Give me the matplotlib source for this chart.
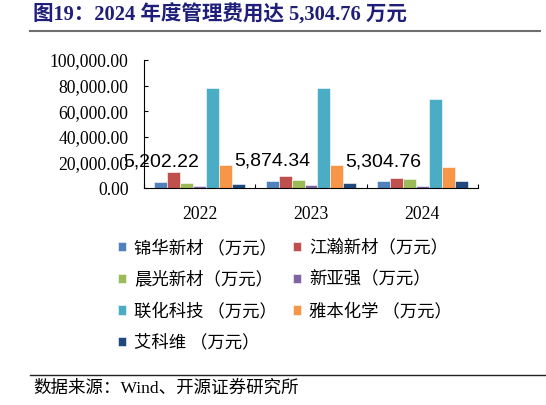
import numpy as np
import matplotlib
matplotlib.use("Agg")
import matplotlib.pyplot as plt
from matplotlib.lines import Line2D

# Data (unit: 万元)
years = ["2022", "2023", "2024"]
companies = ["锦华新材 （万元）", "江瀚新材（万元）", "晨光新材（万元）", "新亚强（万元）",
             "联化科技 （万元）", "雅本化学 （万元）", "艾科维 （万元）"]
jinhua = [5202.22, 5874.34, 5304.76]
jianghan = [12700, 9400, 8300]
chenguang = [3900, 6500, 7300]
xinyaqiang = [2000, 2300, 2000]
lianhua = [78500, 78000, 69700]
yaben = [18200, 17900, 16600]
aikewei = [3400, 4100, 5900]

series = [jinhua, jianghan, chenguang, xinyaqiang, lianhua, yaben, aikewei]
colors = ["#4F81BD", "#C0504D", "#9BBB59", "#8064A2", "#4BACC6", "#F79646", "#1F497D"]

serif = ["Liberation Serif", "Noto Sans CJK SC"]
cjk = ["Noto Sans CJK SC", "DejaVu Sans"]

fig = plt.figure(figsize=(5.46, 4.05), dpi=100)
ax = fig.add_axes([144 / 546, 1 - 188.3 / 405, 334 / 546, 128.3 / 405])

x = np.arange(len(years))
w = 0.116
handles = []
for i, (vals, c) in enumerate(zip(series, colors)):
    b = ax.bar(x + (i - 3) * w, vals, width=w, color=c, edgecolor="white", linewidth=0.4)
    handles.append(b)

# labels on 锦华新材 bars
for xi, v in zip(x, jinhua):
    ax.annotate(f"{v:,.2f}", (xi - 3 * w, v), xytext=(0, 14), textcoords="offset points",
                ha="center", va="center", fontsize=14, family="Liberation Sans")

ax.set_xlim(-0.5, 2.5)
ax.set_ylim(0, 100000)
ax.set_yticks(np.arange(0, 100001, 20000))
ax.set_yticklabels([f"{t:,.2f}" for t in np.arange(0, 100001, 20000)], family=serif, fontsize=12.7)
ax.set_xticks([-0.5, 0.5, 1.5, 2.5])
ax.set_xticklabels([])
ax.set_xticks(x, minor=True)
ax.set_xticklabels(years, minor=True, family=serif, fontsize=12.7)
ax.tick_params(axis="y", direction="in", length=3, width=0.8, pad=11)
ax.tick_params(axis="x", which="major", direction="in", length=3, width=0.8)
ax.tick_params(axis="x", which="minor", length=0, pad=13)
for s in ["top", "right"]:
    ax.spines[s].set_visible(False)
for s in ["left", "bottom"]:
    ax.spines[s].set_linewidth(0.8)

# legend, row-major order in two columns
order = [0, 2, 4, 6, 1, 3, 5]
fig.legend([handles[i] for i in order], [companies[i] for i in order], ncol=2,
           loc="upper left", bbox_to_anchor=(118 / 546, 1 - 239 / 405),
           frameon=False, prop={"family": cjk, "size": 12.5},
           handlelength=0.45, handleheight=0.45, handletextpad=0.5,
           labelspacing=0.78, columnspacing=0.9, borderpad=0, borderaxespad=0)

# title, source and rules
fig.text(33 / 546, 1 - 15 / 405, "图19：2024 年度管理费用达 5,304.76 万元", family=serif,
         fontsize=14.8, fontweight="bold", color="#1F1F7A", va="center", ha="left")
fig.add_artist(Line2D([30 / 546, 540 / 546], [1 - 31 / 405] * 2, color="#6E6E6E", linewidth=1.5))
fig.add_artist(Line2D([30 / 546, 1.0], [1 - 375 / 405] * 2, color="#222222", linewidth=1.0))
fig.text(33 / 546, 1 - 389 / 405, "数据来源：Wind、开源证券研究所", family=serif,
         fontsize=12.6, va="center", ha="left")

fig.savefig("out.png", dpi=100)
